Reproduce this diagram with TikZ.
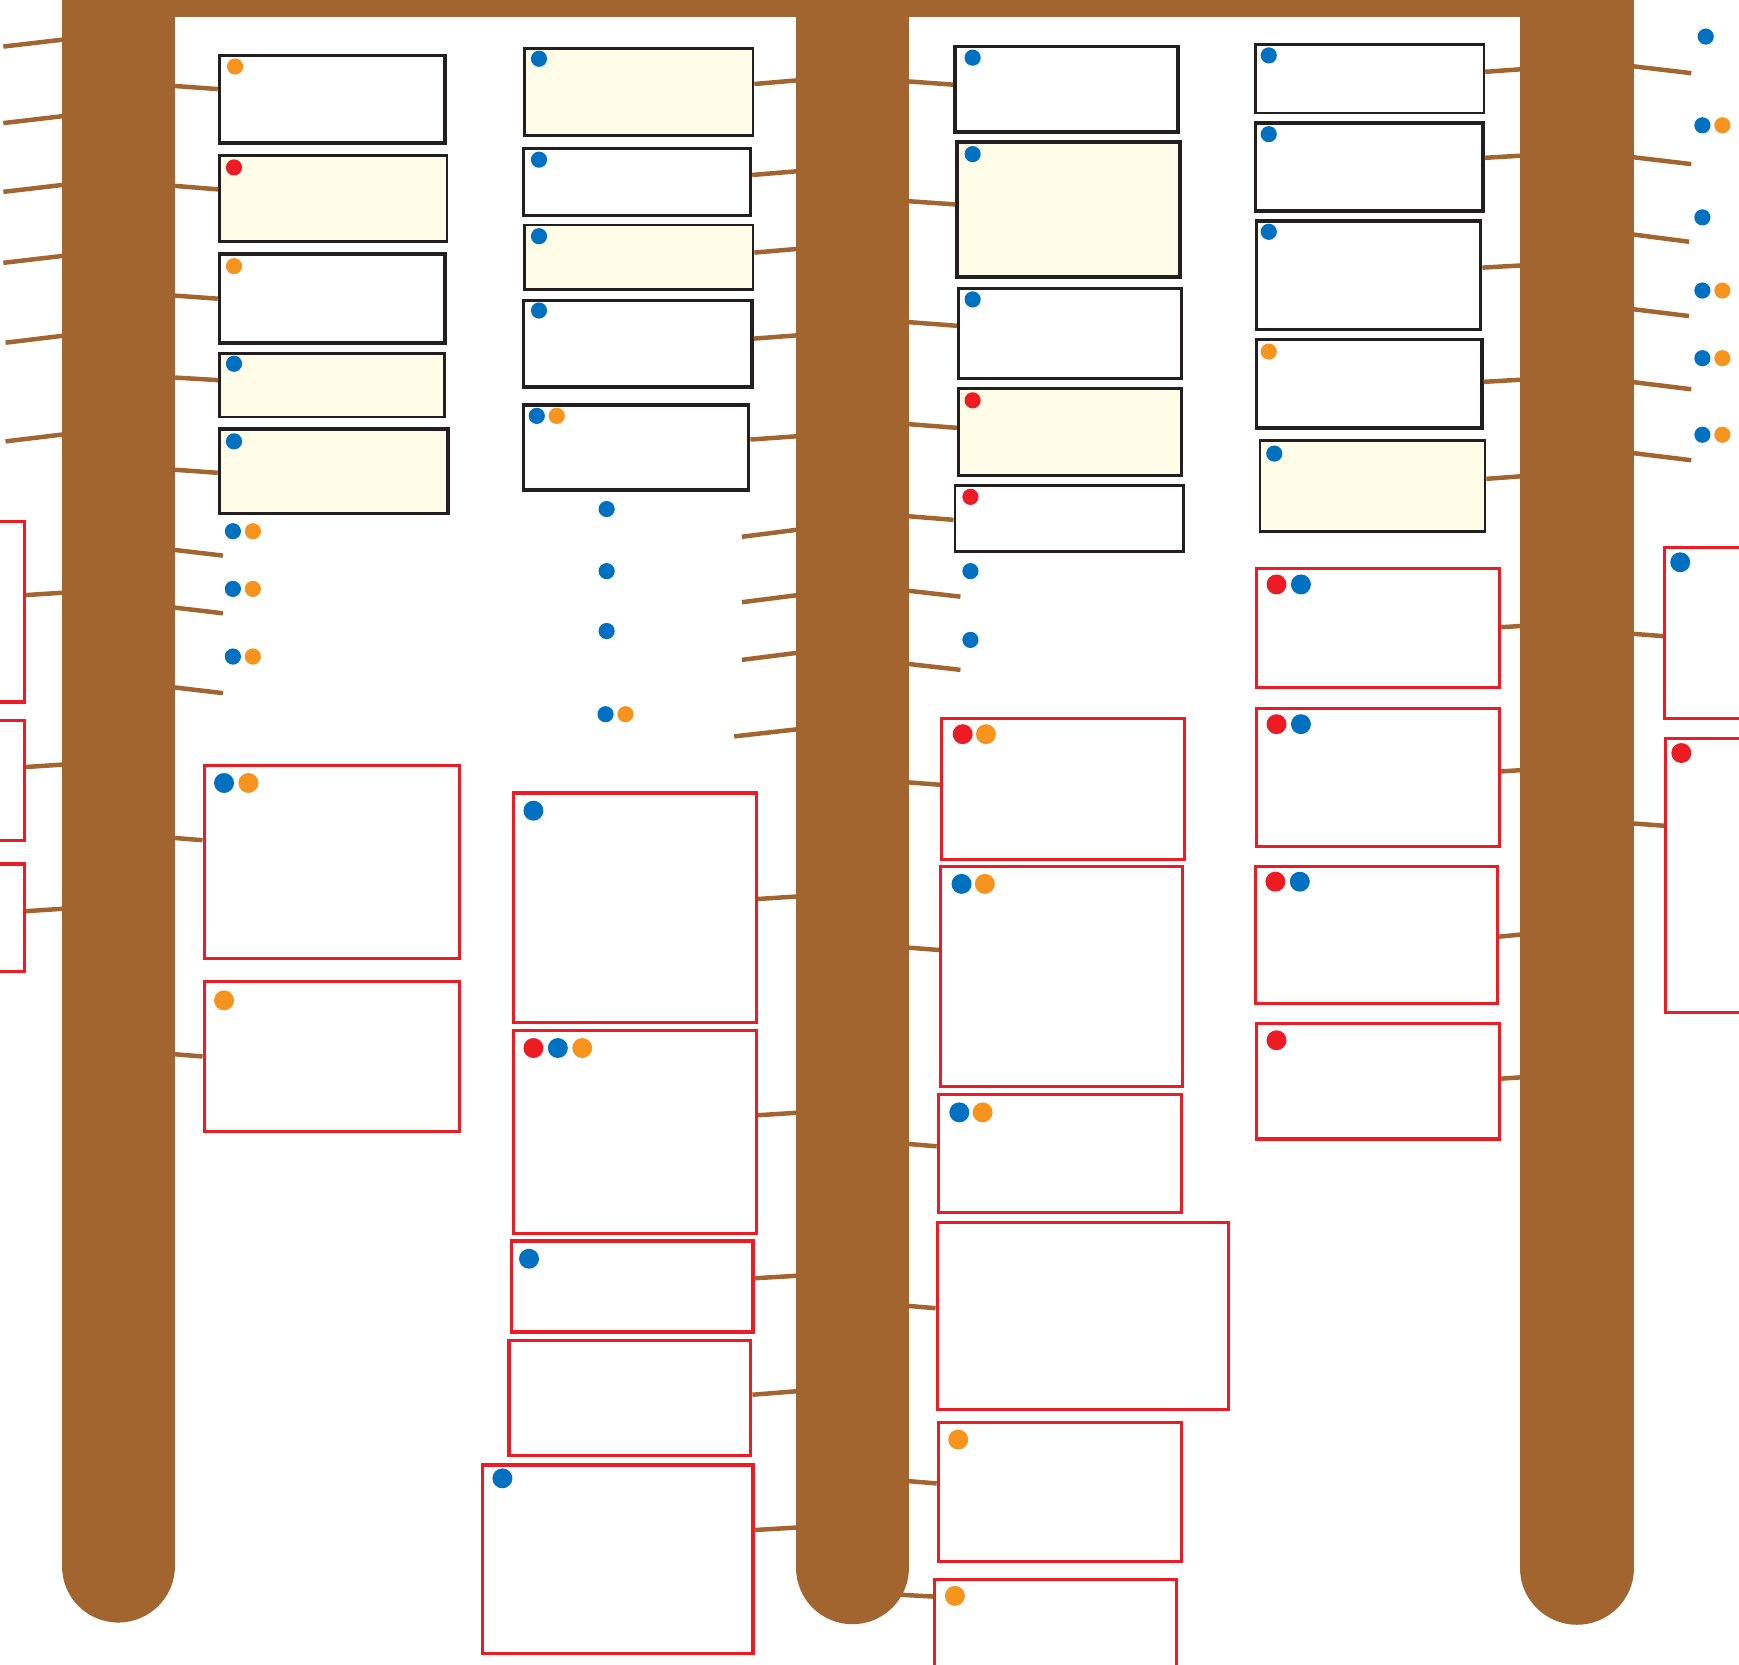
\documentclass[tikz,border=0pt]{standalone}
\usetikzlibrary{fit,calc}
\definecolor{brn}{RGB}{163,101,48}
\definecolor{cream}{RGB}{255,253,232}
\definecolor{dblue}{RGB}{0,112,192}
\definecolor{dorange}{RGB}{247,148,30}
\definecolor{dred}{RGB}{237,28,36}
\definecolor{ink}{RGB}{35,31,32}
\tikzset{
  bk/.style={draw=ink, line width=0.7pt, fill=white, inner sep=0pt},
  bkc/.style={bk, fill=cream},
  bkt/.style={bk, line width=0.95pt},
  bkct/.style={bkc, line width=0.95pt},
  rb/.style={draw=dred, line width=0.8pt, fill=white, inner sep=0pt},
  conn/.style={draw=brn, line width=1.15pt},
  pillar/.style={draw=brn, line width=1.02cm, line cap=round},
}
\newcommand\bx[6]{\node[#6, fit={(#2,#3) (#4,#5)}] (#1) {};}
\newcommand\lk[6]{\coordinate (#1) at (#2,#3);
  \path (#4.#5) ++(0,#6) coordinate (#4-e);
  \draw[conn] (#1) -- (#4-e);}
\newcommand\fl[5]{\coordinate (#1-a) at (#2,#3); \coordinate (#1-b) at (#4,#5);
  \draw[conn] (#1-a) -- (#1-b);}
\newcommand\dB[2]{\fill[dblue] (#1,#2) circle (7.3);}
\newcommand\dO[2]{\fill[dorange] (#1,#2) circle (7.3);}
\newcommand\dR[2]{\fill[dred] (#1,#2) circle (7.3);}
\newcommand\DB[2]{\fill[dblue] (#1,#2) circle (9);}
\newcommand\DO[2]{\fill[dorange] (#1,#2) circle (9);}
\newcommand\DR[2]{\fill[dred] (#1,#2) circle (9);}
\begin{document}
\begin{tikzpicture}[x=0.01cm, y=-0.01cm]
\useasboundingbox (0,0) rectangle (1568,1501);
\clip (0,0) rectangle (1568,1501);
\fill[white] (0,0) rectangle (1568,1501);

% ---------- boxes ----------
% column A
\bx{A1}{198}{50}{401}{129}{bkt}
\bx{A2}{198}{140}{403}{218}{bkc}
\bx{A3}{198}{229}{401}{309}{bkt}
\bx{A4}{198}{319}{401}{376}{bkc}
\bx{A5}{198}{387}{404}{463}{bkct}
\bx{A6}{184}{690}{414}{864}{rb}
\bx{A7}{184}{885}{414}{1020}{rb}
% left edge
\bx{L1}{-30}{470}{22}{633}{rb}
\bx{L2}{-30}{650}{22}{758}{rb}
\bx{L3}{-30}{779}{22}{876}{rb}
% column B
\bx{B1}{473}{44}{679}{122}{bkc}
\bx{B2}{472}{134}{677}{194}{bk}
\bx{B3}{473}{203}{679}{261}{bkc}
\bx{B4}{472}{271}{678}{349}{bkt}
\bx{B5}{472}{365}{675}{442}{bkt}
\bx{B6}{463}{715}{682}{922}{rb}
\bx{B7}{463}{929}{682}{1112}{rb}
\bx{B8}{461}{1119}{679}{1201}{rb}
\bx{B9}{459}{1209}{677}{1312}{rb}
\bx{B10}{435}{1321}{679}{1491}{rb}
% column C
\bx{C1}{861}{42}{1062}{119}{bkt}
\bx{C2}{863}{128}{1064}{250}{bkct}
\bx{C3}{864}{260}{1065}{341}{bk}
\bx{C4}{864}{350}{1065}{429}{bkc}
\bx{C5}{861}{438}{1067}{497}{bk}
\bx{C6}{849}{648}{1068}{775}{rb}
\bx{C7}{848}{781}{1066}{980}{rb}
\bx{C8}{846}{987}{1065}{1093}{rb}
\bx{C9}{845}{1102}{1108}{1271}{rb}
\bx{C10}{846}{1283}{1065}{1408}{rb}
\bx{C11}{843}{1424}{1061}{1530}{rb}
% column D
\bx{D1}{1132}{40}{1338}{102}{bk}
\bx{D2}{1132}{111}{1337}{190}{bkt}
\bx{D3}{1133}{199}{1335}{297}{bkt}
\bx{D4}{1133}{306}{1336}{386}{bkt}
\bx{D5}{1136}{397}{1339}{479}{bkc}
\bx{D6}{1133}{513}{1352}{620}{rb}
\bx{D7}{1133}{639}{1352}{763}{rb}
\bx{D8}{1132}{781}{1350}{905}{rb}
\bx{D9}{1133}{923}{1352}{1027}{rb}
% right edge
\bx{E1}{1501}{494}{1600}{648}{rb}
\bx{E2}{1502}{666}{1600}{913}{rb}

% ---------- connectors ----------
\lk{pA1}{150}{77}{A1}{north west}{32}
\lk{pA2}{150}{167}{A2}{north west}{32}
\lk{pA3}{150}{266}{A3}{north west}{42}
\lk{pA4}{150}{340}{A4}{north west}{25}
\lk{pA5}{150}{423}{A5}{north west}{41}
\lk{pA6}{150}{755}{A6}{north west}{69}
\lk{pA7}{150}{950}{A7}{north west}{69}
\fl{fa1}{150}{495}{201}{501}
\fl{fa2}{150}{547}{201}{553}
\fl{fa3}{150}{619}{201}{625}
\fl{fl1}{3}{42}{63}{35}
\fl{fl2}{3}{111}{63}{104}
\fl{fl3}{3}{173}{63}{166}
\fl{fl4}{3}{237}{63}{230}
\fl{fl5}{5}{309}{63}{302}
\fl{fl6}{5}{398}{63}{391}
\lk{pL1}{63}{534}{L1}{north east}{68}
\lk{pL2}{63}{689}{L2}{north east}{43}
\lk{pL3}{63}{819}{L3}{north east}{44}
\lk{pB1}{724}{72}{B1}{north east}{33}
\lk{pB2}{724}{154}{B2}{north east}{25}
\lk{pB3}{724}{224}{B3}{north east}{26}
\lk{pB4}{724}{302}{B4}{north east}{36}
\lk{pB5}{724}{393}{B5}{north east}{33}
\fl{fb1}{669}{484}{724}{477}
\fl{fb2}{669}{543}{724}{536}
\fl{fb3}{669}{595}{724}{588}
\fl{fb4}{662}{664}{724}{657}
\lk{pB6}{724}{808}{B6}{north east}{97}
\lk{pB7}{724}{1003}{B7}{north east}{78}
\lk{pB8}{724}{1150}{B8}{north east}{35}
\lk{pB9}{724}{1254}{B9}{north east}{50}
\lk{pB10}{724}{1377}{B10}{north east}{60}
\lk{pC1}{813}{73}{C1}{north west}{36}
\lk{pC2}{813}{181}{C2}{north west}{58}
\lk{pC3}{813}{290}{C3}{north west}{35}
\lk{pC4}{813}{382}{C4}{north west}{37}
\lk{pC5}{813}{465}{C5}{north west}{32}
\fl{fc1}{813}{532}{866}{538}
\fl{fc2}{813}{598}{866}{604}
\lk{pC6}{813}{705}{C6}{north west}{61}
\lk{pC7}{813}{854}{C7}{north west}{77}
\lk{pC8}{813}{1031}{C8}{north west}{48}
\lk{pC9}{813}{1177}{C9}{north west}{79}
\lk{pC10}{813}{1335}{C10}{north west}{56}
\lk{pC11}{795}{1437}{C11}{north west}{17}
\lk{pD1}{1378}{62}{D1}{north east}{26}
\lk{pD2}{1378}{140}{D2}{north east}{33}
\lk{pD3}{1378}{239}{D3}{north east}{44}
\lk{pD4}{1378}{342}{D4}{north east}{40}
\lk{pD5}{1378}{429}{D5}{north east}{36}
\lk{pD6}{1378}{564}{D6}{north east}{54}
\lk{pD7}{1378}{694}{D7}{north east}{58}
\lk{pD8}{1378}{842}{D8}{north east}{65}
\lk{pD9}{1378}{971}{D9}{north east}{51}
\fl{fe1}{1466}{59}{1525}{66}
\fl{fe2}{1466}{141}{1525}{148}
\fl{fe3}{1469}{211}{1523}{218}
\fl{fe4}{1466}{278}{1523}{285}
\fl{fe5}{1468}{344}{1525}{351}
\fl{fe6}{1468}{408}{1525}{415}
\lk{pE1}{1466}{571}{E1}{north west}{81}
\lk{pE2}{1466}{742}{E2}{north west}{80}

% ---------- pillars and band ----------
\coordinate (P1t) at (106.5,-80); \coordinate (P1b) at (106.5,1412);
\coordinate (P2t) at (768.5,-80); \coordinate (P2b) at (768.5,1413.5);
\coordinate (P3t) at (1422,-80);  \coordinate (P3b) at (1422,1414);
\draw[pillar] (P1t) -- (P1b);
\draw[pillar] (P2t) -- (P2b);
\draw[pillar] (P3t) -- (P3b);
\fill[brn] (56,-5) rectangle (1473,15);

% ---------- dots ----------
\dO{212}{60} \dR{211}{151} \dO{211}{240} \dB{211}{328} \dB{211}{398}
\dB{210}{479}\dO{228}{479}
\dB{210}{531}\dO{228}{531}
\dB{210}{592}\dO{228}{592}
\DB{202}{706}\DO{224}{706}
\DO{202}{902}
\dB{486}{53} \dB{486}{144} \dB{486}{213} \dB{486}{280}
\dB{484}{375}\dO{502}{375}
\dB{547}{459} \dB{547}{515} \dB{547}{569}
\dB{546}{644}\dO{564}{644}
\DB{481}{731}
\DR{481}{945}\DB{503}{945}\DO{525}{945}
\DB{477}{1135}
\DB{453}{1333}
\dB{877}{52} \dB{877}{139} \dB{877}{270} \dR{877}{361} \dR{875}{448}
\dB{875}{515} \dB{875}{577}
\DR{868}{662}\DO{889}{662}
\DB{867}{797}\DO{888}{797}
\DB{865}{1003}\DO{886}{1003}
\DO{864}{1298}
\DO{861}{1439}
\dB{1144}{50} \dB{1144}{121} \dB{1144}{209} \dO{1144}{317} \dB{1149}{409}
\DR{1151}{527}\DB{1173}{527}
\DR{1151}{653}\DB{1173}{653}
\DR{1150}{795}\DB{1172}{795}
\DR{1151}{938}
\dB{1538}{33}
\dB{1535}{113}\dO{1553}{113}
\dB{1535}{196}
\dB{1535}{262}\dO{1553}{262}
\dB{1535}{323}\dO{1553}{323}
\dB{1535}{392}\dO{1553}{392}
\DB{1515}{507}
\DR{1516}{679}
\end{tikzpicture}
\end{document}
